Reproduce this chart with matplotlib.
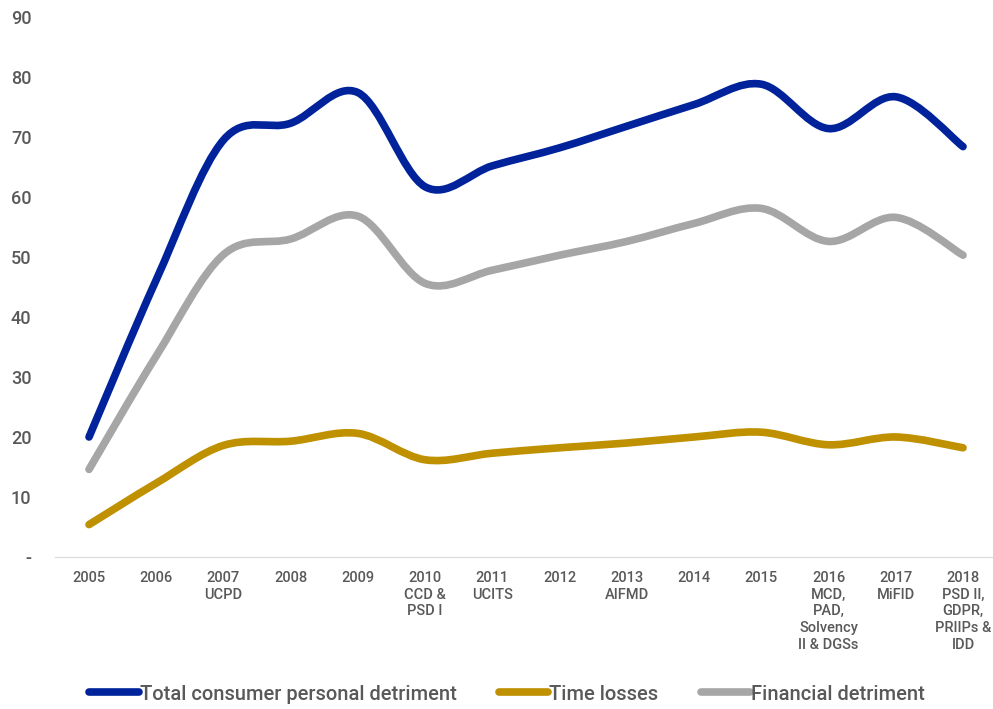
import matplotlib
matplotlib.use("Agg")
import matplotlib.pyplot as plt
import numpy as np
from matplotlib.lines import Line2D
from matplotlib.patches import PathPatch
from matplotlib.path import Path

years = ["2005", "2006", "2007\nUCPD", "2008", "2009", "2010\nCCD &\nPSD I",
         "2011\nUCITS", "2012", "2013\nAIFMD", "2014", "2015",
         "2016\nMCD,\nPAD,\nSolvency\nII & DGSs", "2017\nMiFID",
         "2018\nPSD II,\nGDPR,\nPRIIPs &\nIDD"]

total = [20.0, 46.2, 69.5, 72.3, 77.4, 61.7, 65.2, 68.2, 71.8, 75.4, 78.8, 71.4, 76.7, 68.4]
time_losses = [5.4, 12.3, 18.6, 19.3, 20.6, 16.2, 17.3, 18.2, 19.0, 20.0, 20.8, 18.7, 20.0, 18.2]
financial = [14.6, 33.5, 50.4, 53.0, 56.8, 45.6, 47.8, 50.3, 52.6, 55.6, 58.1, 52.6, 56.6, 50.3]

series = [
    ("Total consumer personal detriment", total, "#00239C"),
    ("Time losses", time_losses, "#BF9000"),
    ("Financial detriment", financial, "#A6A6A6"),
]

TXT = "#595959"
FONT = ["Roboto", "DejaVu Sans"]


def smooth_path(xs, ys):
    # Catmull-Rom style cubic Bezier through every point (spreadsheet "smoothed line")
    pts = np.column_stack([xs, ys]).astype(float)
    ext = np.vstack([pts[0], pts, pts[-1]])
    verts = [pts[0]]
    codes = [Path.MOVETO]
    for i in range(len(pts) - 1):
        p0, p1, p2, p3 = ext[i], ext[i + 1], ext[i + 2], ext[i + 3]
        verts += [p1 + (p2 - p0) / 6.0, p2 - (p3 - p1) / 6.0, p2]
        codes += [Path.CURVE4] * 3
    return Path(verts, codes)


fig = plt.figure(figsize=(9.93, 7.09), dpi=100)
ax = fig.add_axes([55 / 993, 1 - 557 / 709, 938 / 993, 540 / 709])

x = np.arange(len(years))
handles = []
for name, vals, color in series:
    patch = PathPatch(smooth_path(x, vals), facecolor="none", edgecolor=color,
                      lw=5.5, capstyle="round", joinstyle="round", clip_on=False)
    ax.add_patch(patch)
    handles.append(Line2D([], [], color=color, lw=5.5, solid_capstyle="round"))

ax.set_xlim(-0.506, 13.446)
ax.set_ylim(0, 90)

ax.set_yticks(range(0, 91, 10))
ax.set_yticklabels(["-"] + [str(v) for v in range(10, 91, 10)],
                   fontsize=13, color=TXT, family=FONT, fontweight="medium")
ax.set_xticks(x)
ax.set_xticklabels(years, fontsize=10.5, color=TXT, family=FONT,
                   fontweight="medium", linespacing=1.25, va="top")
ax.tick_params(axis="y", length=0, pad=17)
ax.tick_params(axis="x", length=0, pad=10)

for side in ["top", "right", "left"]:
    ax.spines[side].set_visible(False)
ax.spines["bottom"].set_color("#D9D9D9")
ax.spines["bottom"].set_linewidth(0.8)

leg = fig.legend(handles, [s[0] for s in series], loc="center",
                 bbox_to_anchor=(507 / 993, 1 - 694 / 709), ncol=3,
                 frameon=False, handlelength=2.45, handletextpad=0.05,
                 columnspacing=2.1,
                 prop={"family": FONT, "size": 14.5, "weight": "medium"})
for t in leg.get_texts():
    t.set_color(TXT)

fig.savefig("out.png", dpi=100)
